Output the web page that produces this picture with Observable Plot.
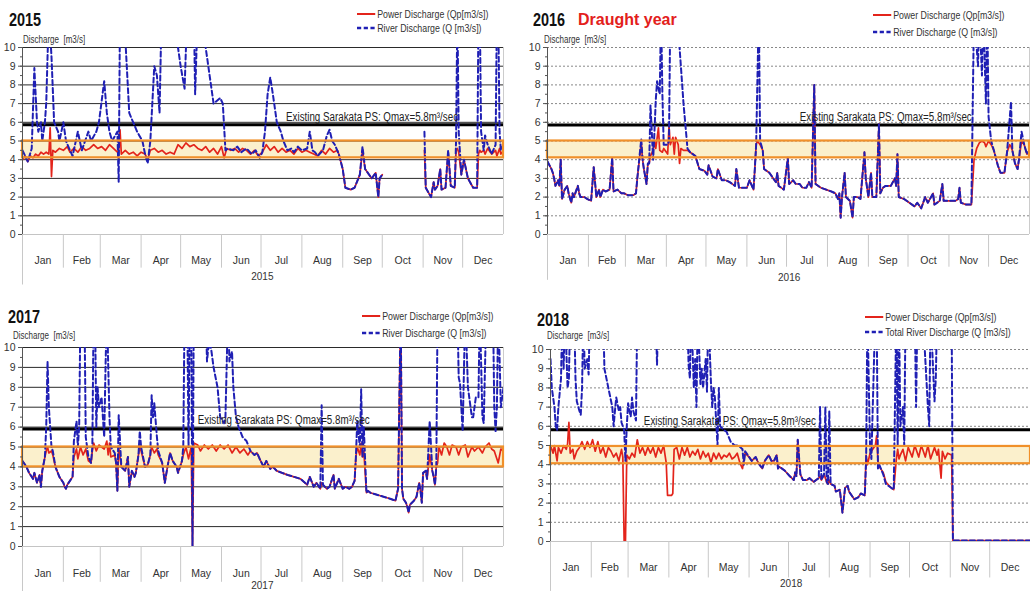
<!DOCTYPE html>
<html><head><meta charset="utf-8">
<script src="https://cdn.jsdelivr.net/npm/d3@7"></script>
<script src="https://cdn.jsdelivr.net/npm/@observablehq/plot@0.6"></script>
<style>
body{margin:0;background:#fff;}
#root{position:relative;width:1030px;height:591px;overflow:hidden;font-family:"Liberation Sans",Arial,sans-serif;color:#222;}
.panel{position:absolute;}
.ov{position:absolute;white-space:nowrap;z-index:5;transform-origin:left center;}
.title{font-weight:bold;font-size:19px;line-height:1;color:#111;transform:scaleX(0.76);}
.red{color:#e3201b;font-weight:bold;font-size:16px;line-height:1;}
.ylab{font-size:10px;line-height:10px;color:#333;transform:scaleX(0.8);}
.leg{font-size:10.5px;color:#333;transform:scaleX(0.84);}
.leg div{display:flex;align-items:center;}
.leg svg{margin-right:2px;}
</style></head>
<body><div id="root"></div>
<script>
// ---------- data ----------
const months = ["Jan","Feb","Mar","Apr","May","Jun","Jul","Aug","Sep","Oct","Nov","Dec"];
const monthStarts = [0,31,59,90,120,151,181,212,243,273,304,334,365];
const yTicks = [0,1,2,3,4,5,6,7,8,9,10];
const qmaxLabel = "Existing Sarakata PS: Qmax=5.8m\u00b3/sec";

// [day of year, discharge m3/s]; values above 10 run off the top of the frame
const river2015 = [[0,4.5],[4,3.9],[7,4.6],[9,8.9],[11,6.0],[12,5.5],[14,6.0],[15,5.0],[17,6.0],[18,7.0],[20,12],[22,9.5],[24,6.0],[27,5.5],[28,5.0],[31,6.0],[33,5.0],[36,4.5],[38,4.2],[42,5.5],[45,4.5],[50,5.5],[52,5.0],[56,5.5],[58,6.0],[62,8.2],[64,6.5],[66,5.5],[68,5.0],[72,5.5],[73,2.8],[74,12],[78,10.5],[81,6.5],[84,6.0],[87,5.5],[91,5.0],[93,4.3],[95,3.8],[97,5.0],[100,9.0],[102,8.5],[104,6.5],[105,10],[107,12],[117,12],[118,10],[120,9.0],[123,7.8],[125,12],[130,12],[131,7.5],[133,12],[138,12],[139,10],[142,8.5],[145,7.0],[150,7.3],[152,7.0],[154,4.5],[156,4.6],[160,4.5],[163,4.7],[166,4.4],[170,4.6],[174,4.3],[177,4.5],[180,4.1],[182,4.4],[184,5.5],[186,7.5],[188,8.4],[190,7.5],[191,7.0],[192,6.5],[193,6.0],[196,5.5],[198,5.0],[201,4.5],[204,4.6],[206,4.4],[209,4.7],[212,4.5],[216,4.6],[218,5.5],[220,4.5],[222,4.4],[224,4.2],[228,4.5],[231,5.3],[233,5.6],[235,5.0],[237,4.8],[240,4.3],[243,3.5],[245,2.5],[249,2.4],[252,2.5],[256,3.2],[258,4.7],[260,3.5],[265,3.0],[268,3.3],[270,2.0],[271,3.0],[273,3.2],[274,null],[304,null],[305,5.5],[306,2.5],[310,2.0],[312,2.8],[313,2.4],[315,2.6],[317,3.5],[318,2.4],[321,2.5],[323,4.5],[325,2.6],[328,2.5],[329,5.0],[330,12],[331,5.5],[333,3.2],[335,4.0],[338,3.0],[342,2.5],[345,2.5],[346,12],[347,12],[348,5.5],[350,4.5],[351,5.3],[353,4.8],[356,4.3],[359,4.8],[360,12],[361,12],[362,5.5],[363,4.5],[365,4.8]];
const power2015 = [[0,4.0],[2,4.2],[4,3.9],[6,4.2],[8,4.1],[10,4.3],[12,4.2],[14,4.4],[16,4.3],[18,4.4],[20,4.3],[21,5.7],[22,3.1],[23,4.5],[25,4.4],[28,4.6],[31,4.5],[34,4.7],[36,4.4],[39,4.6],[42,4.4],[45,4.7],[48,4.5],[51,4.6],[54,4.8],[57,4.6],[60,4.7],[63,4.5],[66,4.8],[69,4.6],[72,4.4],[73,4.5],[74,5.6],[75,4.3],[78,4.5],[81,4.3],[84,4.4],[87,4.2],[90,4.4],[93,4.3],[95,4.0],[97,4.5],[100,4.6],[103,4.4],[106,4.5],[109,4.3],[112,4.4],[115,4.3],[118,4.8],[121,4.6],[124,4.9],[127,4.7],[130,4.8],[133,4.6],[136,4.5],[139,4.7],[142,4.4],[145,4.6],[148,4.3],[151,4.7],[153,4.1],[155,4.6],[158,4.5],[161,4.6],[164,4.4],[167,4.6],[170,4.5],[173,4.3],[176,4.5],[179,4.2],[182,4.4],[185,4.8],[188,4.5],[191,4.7],[194,4.4],[197,4.6],[200,4.4],[203,4.5],[206,4.3],[209,4.6],[212,4.4],[215,4.5],[218,4.4],[221,4.3],[224,4.2],[227,4.5],[230,4.3],[233,4.6],[236,4.4],[239,4.5],[240,4.3],[243,3.5],[245,2.5],[249,2.4],[252,2.5],[256,3.2],[258,4.5],[260,3.5],[265,3.0],[268,3.3],[270,2.0],[271,3.0],[273,3.2],[274,null],[304,null],[305,4.5],[306,2.5],[310,2.0],[312,2.8],[313,2.4],[315,2.6],[317,3.5],[318,2.4],[321,2.5],[323,4.4],[325,2.6],[328,2.5],[329,4.5],[330,4.6],[331,4.4],[333,3.2],[335,4.0],[338,3.0],[342,2.5],[345,2.5],[346,4.3],[347,4.5],[348,4.4],[350,4.5],[351,4.3],[353,4.6],[356,4.3],[359,4.5],[360,4.2],[362,4.6],[363,4.3],[365,4.5]];

const river2016 = [[0,3.9],[3,3.5],[4,3.3],[5,3.0],[6,2.6],[8,2.9],[9,2.6],[10,4.0],[11,1.9],[13,2.4],[15,2.6],[16,2.2],[18,1.7],[19,2.2],[20,2.0],[23,2.6],[24,2.2],[25,2.0],[28,2.0],[30,1.9],[33,1.8],[35,3.6],[37,2.0],[39,2.4],[40,2.0],[42,2.4],[44,2.3],[47,2.4],[49,4.1],[50,2.3],[53,2.4],[56,2.2],[58,2.2],[61,2.1],[65,2.1],[67,2.2],[68,3.0],[71,5.1],[72,4.0],[73,3.5],[75,2.7],[76,3.8],[77,3.8],[78,6.9],[80,4.0],[81,5.5],[82,7.2],[83,8.2],[85,7.5],[86,12],[87,7.5],[88,4.8],[91,4.8],[92,5.0],[93,12],[100,10],[103,7.0],[106,4.6],[108,4.4],[112,4.2],[115,3.5],[119,3.4],[121,3.2],[122,3.7],[125,3.1],[128,3.0],[129,3.5],[132,2.9],[135,2.9],[138,2.8],[142,2.6],[143,3.5],[145,2.5],[151,2.5],[153,2.9],[156,2.4],[157,3.5],[158,4.8],[160,12],[161,5.0],[163,4.5],[164,3.5],[168,3.3],[171,3.0],[173,2.8],[174,3.3],[175,2.6],[179,2.4],[182,4.1],[183,2.7],[186,2.9],[188,2.7],[191,2.7],[193,2.5],[196,2.5],[198,2.8],[200,2.5],[202,8.0],[203,2.7],[207,2.5],[211,2.4],[215,2.3],[218,2.2],[220,1.9],[221,2.2],[222,0.9],[223,2.0],[225,3.3],[226,2.0],[229,1.8],[231,0.9],[232,2.0],[235,2.0],[237,1.9],[240,4.4],[241,3.0],[243,2.0],[245,3.3],[246,2.0],[249,2.0],[251,5.9],[252,2.2],[254,2.5],[256,2.6],[260,2.6],[263,3.0],[264,2.6],[265,4.3],[266,2.0],[270,1.9],[274,1.7],[278,1.5],[280,1.7],[283,1.4],[286,2.0],[288,1.7],[292,2.2],[293,1.6],[297,1.8],[299,2.7],[300,1.8],[305,1.8],[309,1.8],[311,1.9],[312,2.5],[313,1.7],[317,1.6],[321,1.6],[323,12],[326,9.0],[327,12],[329,8.5],[330,12],[332,7.0],[333,12],[334,6.3],[336,5.0],[338,4.5],[341,3.7],[343,3.3],[346,3.3],[348,4.4],[351,7.1],[352,4.5],[354,3.8],[356,3.5],[357,4.0],[359,5.5],[361,4.8],[363,4.3],[365,4.5]];
const power2016 = [[0,3.9],[3,3.5],[4,3.3],[5,3.0],[6,2.6],[8,2.9],[9,2.6],[10,4.0],[11,1.9],[13,2.4],[15,2.6],[16,2.2],[18,1.7],[19,2.2],[20,2.0],[23,2.6],[24,2.2],[25,2.0],[28,2.0],[30,1.9],[33,1.8],[35,3.6],[37,2.0],[39,2.4],[40,2.0],[42,2.4],[44,2.3],[47,2.4],[49,4.1],[50,2.3],[53,2.4],[56,2.2],[58,2.2],[61,2.1],[65,2.1],[67,2.2],[68,3.0],[71,4.9],[72,4.0],[73,3.5],[75,2.7],[76,3.8],[77,3.8],[78,4.2],[80,4.5],[81,5.0],[82,4.6],[84,5.7],[85,4.5],[87,4.4],[88,4.6],[91,4.3],[92,5.8],[93,4.8],[95,5.2],[96,4.3],[97,5.2],[99,4.8],[100,3.8],[101,4.6],[103,4.5],[106,4.5],[108,4.4],[112,4.2],[115,3.5],[119,3.4],[121,3.2],[122,3.7],[125,3.1],[128,3.0],[129,3.5],[132,2.9],[135,2.9],[138,2.8],[142,2.6],[143,3.5],[145,2.5],[151,2.5],[153,2.9],[156,2.4],[157,3.5],[158,4.8],[159,5.0],[160,4.9],[161,4.8],[163,4.5],[164,3.5],[168,3.3],[171,3.0],[173,2.8],[174,3.3],[175,2.6],[179,2.4],[182,4.1],[183,2.7],[186,2.9],[188,2.7],[191,2.7],[193,2.5],[196,2.5],[198,2.8],[200,2.5],[202,8.0],[203,2.7],[207,2.5],[211,2.4],[215,2.3],[218,2.2],[220,1.9],[221,2.2],[222,0.9],[223,2.0],[225,3.3],[226,2.0],[229,1.8],[231,0.9],[232,2.0],[235,2.0],[237,1.9],[240,4.4],[241,3.0],[243,2.0],[245,3.3],[246,2.0],[249,2.0],[251,5.9],[252,2.2],[254,2.5],[256,2.6],[260,2.6],[263,3.0],[264,2.6],[265,4.3],[266,2.0],[270,1.9],[274,1.7],[278,1.5],[280,1.7],[283,1.4],[286,2.0],[288,1.7],[292,2.2],[293,1.6],[297,1.8],[299,2.7],[300,1.8],[305,1.8],[309,1.8],[311,1.9],[312,2.5],[313,1.7],[317,1.6],[321,1.6],[323,4.0],[325,4.6],[327,4.9],[329,5.0],[331,4.9],[332,4.7],[334,5.0],[336,4.8],[338,4.5],[341,3.7],[343,3.3],[346,3.3],[348,4.4],[350,4.8],[351,4.7],[352,4.5],[354,3.8],[356,3.5],[357,4.0],[359,5.0],[361,4.8],[363,4.3],[365,4.5]];

const river2017 = [[0,4.3],[3,4.0],[5,3.7],[8,3.4],[9,3.7],[11,3.2],[13,3.6],[14,3.0],[15,3.8],[17,4.5],[18,6.0],[19,9.3],[20,7.0],[22,5.0],[23,4.8],[25,4.0],[28,3.5],[31,3.2],[32,3.0],[33,2.9],[34,3.1],[36,3.3],[38,3.5],[39,5.3],[41,6.3],[42,5.0],[43,6.0],[44,12],[47,12],[48,5.5],[50,4.5],[52,4.2],[53,5.0],[54,12],[55,12],[56,6.0],[57,8.0],[58,7.0],[60,7.5],[61,6.5],[62,5.5],[63,9.0],[64,12],[66,6.5],[67,5.0],[70,4.7],[71,4.2],[72,2.8],[73,6.6],[75,4.0],[78,3.8],[80,4.5],[81,3.0],[83,3.8],[85,3.5],[86,3.7],[88,4.6],[89,5.8],[90,5.0],[93,4.0],[95,4.1],[97,4.6],[98,7.6],[99,6.5],[100,7.2],[102,5.5],[103,4.8],[106,4.2],[108,3.2],[110,4.0],[112,4.7],[114,4.3],[117,4.0],[118,3.7],[121,4.3],[122,5.0],[123,12],[125,12],[126,5.0],[127,12],[128,12],[129,0.0],[130,12],[139,12],[140,9.3],[141,10],[143,10],[145,9.0],[148,8.0],[150,6.5],[153,6.2],[154,6.5],[156,12],[157,9.3],[159,9.8],[160,8.0],[162,6.5],[164,6.0],[167,5.5],[170,5.3],[173,4.8],[176,4.6],[178,4.7],[180,4.4],[183,4.0],[185,4.3],[188,3.9],[190,4.0],[193,3.8],[197,3.7],[201,3.6],[206,3.5],[211,3.4],[216,3.1],[218,3.5],[221,3.0],[223,3.2],[226,2.9],[227,7.1],[228,3.1],[231,2.9],[233,3.0],[236,3.6],[237,2.9],[240,3.4],[243,2.9],[245,3.0],[248,2.9],[250,3.0],[252,3.3],[253,4.5],[254,6.3],[256,5.0],[257,7.9],[258,4.5],[259,6.0],[261,2.7],[262,2.8],[264,2.7],[269,2.6],[274,2.5],[279,2.4],[283,2.3],[285,2.9],[287,12],[288,2.9],[289,2.4],[291,2.2],[292,2.0],[293,1.7],[294,2.1],[297,2.3],[299,2.5],[301,3.2],[302,2.8],[303,2.2],[304,3.7],[306,3.8],[307,3.4],[309,6.3],[311,3.8],[312,3.5],[313,3.1],[314,4.0],[315,12],[330,12],[331,8.5],[332,8.2],[334,5.8],[336,12],[338,8.0],[339,7.5],[341,6.5],[342,6.5],[344,7.5],[346,7.5],[347,12],[349,6.5],[350,6.2],[352,12],[357,12],[358,7.0],[359,5.8],[360,7.0],[361,12],[363,7.0],[365,8.0]];
const power2017 = [[0,4.3],[3,4.0],[5,3.7],[8,3.4],[9,3.7],[11,3.2],[13,3.6],[14,3.0],[15,3.8],[17,4.5],[18,4.8],[19,5.0],[20,4.7],[22,4.8],[23,4.6],[25,4.0],[28,3.5],[31,3.2],[32,3.0],[33,2.9],[34,3.1],[36,3.3],[38,3.5],[39,4.5],[41,4.9],[42,4.4],[43,4.7],[44,5.0],[46,4.6],[48,4.9],[50,4.3],[52,4.2],[53,4.8],[54,5.2],[56,4.8],[58,5.1],[60,5.0],[62,4.9],[64,5.3],[65,4.6],[66,5.2],[67,4.5],[70,4.6],[71,4.2],[72,2.8],[73,5.0],[75,4.0],[78,3.8],[80,4.5],[81,3.0],[83,3.8],[85,3.5],[86,3.7],[88,4.6],[89,5.0],[90,4.8],[93,4.0],[95,4.1],[97,4.6],[98,5.0],[100,4.7],[102,4.9],[103,4.6],[106,4.2],[108,3.2],[110,4.0],[112,4.7],[114,4.3],[117,4.0],[118,3.7],[121,4.3],[122,4.6],[124,5.0],[126,4.4],[128,5.0],[129,0.0],[130,5.2],[133,5.1],[135,4.8],[138,5.1],[141,4.9],[144,5.1],[147,4.8],[150,5.1],[153,4.9],[156,5.1],[159,4.7],[162,5.0],[165,4.7],[168,4.9],[171,4.6],[173,4.8],[176,4.6],[178,4.7],[180,4.4],[183,4.0],[185,4.3],[188,3.9],[190,4.0],[193,3.8],[197,3.7],[201,3.6],[206,3.5],[211,3.4],[216,3.1],[218,3.5],[221,3.0],[223,3.2],[226,2.9],[227,3.2],[228,3.1],[231,2.9],[233,3.0],[236,3.6],[237,2.9],[240,3.4],[243,2.9],[245,3.0],[248,2.9],[250,3.0],[252,3.3],[253,4.5],[254,5.0],[256,4.6],[257,5.2],[258,4.5],[259,4.8],[261,2.7],[262,2.8],[264,2.7],[269,2.6],[274,2.5],[279,2.4],[283,2.3],[285,2.9],[287,12],[288,2.9],[289,2.4],[291,2.2],[292,2.0],[293,1.7],[294,2.1],[297,2.3],[299,2.5],[301,3.2],[302,2.8],[303,2.2],[304,3.7],[306,3.8],[307,3.4],[309,4.6],[311,3.8],[312,3.5],[313,3.1],[314,4.0],[315,4.2],[316,5.0],[318,4.6],[320,5.2],[322,5.0],[324,4.6],[326,5.1],[329,5.0],[331,4.6],[333,5.0],[336,5.1],[338,4.5],[341,5.0],[343,4.8],[346,5.0],[349,4.7],[351,5.0],[354,5.2],[356,4.9],[358,4.8],[361,4.2],[363,4.9],[365,4.8]];

const river2018 = [[0,9.5],[1,8.0],[3,7.0],[4,6.0],[5,5.8],[6,7.0],[8,8.5],[9,12],[10,9.0],[11,12],[13,8.0],[14,8.5],[15,12],[18,12],[19,8.5],[20,7.3],[22,6.8],[23,6.6],[24,8.0],[25,12],[26,9.0],[28,9.5],[29,8.7],[30,12],[40,12],[41,9.0],[44,8.0],[47,7.0],[48,6.0],[49,6.8],[50,7.5],[52,6.8],[53,7.0],[54,6.2],[56,5.8],[57,4.2],[58,6.0],[59,7.2],[61,6.5],[62,7.5],[63,6.8],[65,6.3],[66,12],[80,12],[81,9.2],[82,12],[104,12],[105,9.2],[106,8.5],[107,12],[109,8.0],[110,9.5],[111,7.0],[112,12],[114,8.2],[115,9.0],[116,8.0],[118,9.5],[119,7.8],[120,12],[122,8.3],[123,7.0],[124,8.0],[125,7.5],[127,5.0],[128,8.0],[129,6.0],[132,5.8],[134,5.7],[137,5.2],[140,5.0],[143,5.0],[146,4.8],[147,4.0],[148,4.7],[151,4.4],[153,4.2],[156,4.4],[158,4.1],[161,3.8],[163,4.2],[166,4.5],[168,4.2],[170,4.2],[172,4.5],[173,3.8],[174,3.9],[178,3.7],[182,3.4],[185,3.2],[186,3.6],[187,3.4],[188,5.3],[190,3.5],[192,3.2],[195,3.2],[197,3.3],[200,3.1],[202,3.2],[204,3.3],[205,7.0],[206,3.2],[208,3.5],[209,7.0],[210,3.1],[211,3.0],[212,6.8],[213,3.0],[216,2.9],[217,2.6],[220,2.7],[222,1.5],[224,2.8],[226,2.9],[227,2.6],[231,2.2],[234,2.3],[236,2.5],[239,2.4],[240,4.2],[241,12],[243,4.8],[244,4.3],[247,12],[248,12],[249,3.8],[250,4.0],[253,3.5],[255,3.0],[259,2.8],[261,2.7],[263,12],[264,5.0],[265,12],[266,6.0],[268,7.0],[269,5.0],[270,12],[277,12],[278,7.0],[279,12],[283,12],[287,7.0],[288,6.0],[289,12],[292,7.3],[293,8.5],[294,12],[305,12],[306,0.05],[365,0.05]];
const power2018 = [[0,5.0],[2,4.6],[3,5.0],[5,4.2],[6,4.9],[8,4.6],[10,5.0],[12,4.8],[13,5.1],[14,6.2],[15,4.6],[17,4.8],[18,4.3],[20,4.7],[22,4.9],[24,5.2],[26,4.8],[28,5.2],[30,4.9],[32,5.3],[34,4.7],[36,5.2],[38,4.6],[40,4.9],[42,4.4],[44,4.9],[46,4.7],[48,4.4],[50,4.6],[52,4.2],[54,4.8],[55,4.4],[56,0.0],[57,0.0],[58,4.5],[60,4.3],[62,4.6],[64,4.4],[66,5.3],[68,4.6],[70,4.9],[72,4.5],[74,4.9],[76,4.6],[78,4.9],[80,4.4],[82,4.9],[84,4.6],[86,5.0],[88,4.1],[89,2.4],[92,2.4],[93,2.5],[94,4.8],[96,4.9],[98,4.3],[100,4.9],[102,4.5],[104,4.9],[106,4.4],[108,4.7],[110,4.5],[112,4.8],[114,4.3],[116,4.7],[118,4.4],[120,4.6],[122,4.1],[124,4.6],[126,4.3],[128,4.6],[130,4.3],[132,4.5],[134,4.4],[136,4.6],[138,4.3],[140,4.4],[142,4.6],[144,4.1],[146,3.8],[148,4.6],[151,4.4],[153,4.2],[156,4.4],[158,4.1],[161,3.8],[163,4.2],[166,4.5],[168,4.2],[170,4.2],[172,4.5],[173,3.8],[174,3.9],[178,3.7],[182,3.4],[185,3.2],[186,3.6],[187,3.4],[188,5.3],[190,3.5],[192,3.2],[195,3.2],[197,3.3],[200,3.1],[202,3.2],[204,3.3],[205,3.4],[206,3.2],[208,3.5],[209,3.3],[210,3.1],[211,3.0],[212,3.2],[213,3.0],[216,2.9],[217,2.6],[220,2.7],[222,1.5],[224,2.8],[226,2.9],[227,2.6],[231,2.2],[234,2.3],[236,2.5],[239,2.4],[240,4.5],[241,4.0],[243,4.6],[245,4.8],[247,5.0],[248,5.5],[249,4.2],[250,3.9],[253,3.6],[255,3.1],[259,2.8],[261,2.7],[263,4.3],[264,4.8],[265,4.3],[266,4.5],[268,4.8],[270,4.2],[272,4.9],[275,4.4],[277,5.0],[280,4.4],[282,5.0],[285,4.4],[287,5.0],[289,4.3],[292,4.9],[294,4.5],[295,4.8],[297,3.3],[298,4.7],[300,4.3],[302,4.6],[305,4.5],[306,0.05],[365,0.05]];

// ---------- layout / styling ----------
const FONT = '"Liberation Sans",Arial,sans-serif';
const panels = [
  {year:"2015", river:river2015, power:power2015, band:[4.1,5.0], qmax:5.87,
   left:0, top:30, width:515, height:260, mt:17, mb:56, ml:22, mr:12,
   grid:"#2a2a2a", dash:null, lx:200, ly:6.3, monthY:-1.4, divY:-1.8, extY:-2.7, yearX:182, yearY:-2.25},
  {year:"2016", river:river2016, power:power2016, band:[4.1,5.0], qmax:5.85,
   left:515, top:30, width:515, height:260, mt:17, mb:56, ml:32, mr:1,
   grid:"#888", dash:"2,2", lx:191, ly:6.3, monthY:-1.4, divY:-1.75, extY:-2.45, yearX:183, yearY:-2.3},
  {year:"2017", river:river2017, power:power2017, band:[4.0,5.0], qmax:5.9,
   left:0, top:330, width:515, height:261, mt:17, mb:45, ml:22, mr:12,
   grid:"#2a2a2a", dash:null, lx:133, ly:6.35, monthY:-1.36, divY:-1.8, extY:-2.3, yearX:182, yearY:-1.97},
  {year:"2018", river:river2018, power:power2018, band:[4.05,4.95], qmax:5.82,
   left:515, top:330, width:515, height:261, mt:19, mb:50, ml:35, mr:0,
   grid:"#888", dash:"2,2", lx:71, ly:6.27, monthY:-1.34, divY:-1.9, extY:-2.6, yearX:183, yearY:-2.2}
];

const root = document.getElementById("root");
const mids = months.map((m,i)=>({m, x:(monthStarts[i]+monthStarts[i+1])/2}));

for (const p of panels) {
  const chart = Plot.plot({
    width:p.width, height:p.height,
    marginTop:p.mt, marginBottom:p.mb, marginLeft:p.ml, marginRight:p.mr,
    x:{domain:[0,365], axis:null},
    y:{domain:[0,10]},
    style:{fontFamily:FONT, fontSize:"11px", color:"#222", background:"transparent", overflow:"visible"},
    marks:[
      Plot.rect([p.band],{x1:0, x2:365, y1:d=>d[0], y2:d=>d[1], fill:"#fbf0cc"}),
      Plot.ruleY(yTicks.slice(1),{stroke:p.grid, strokeWidth:1, strokeDasharray:p.dash}),
      Plot.ruleY([0],{stroke:"#c4c4c4"}),
      Plot.ruleX([365],{y1:0, y2:10, stroke:"#ccc"}),
      Plot.ruleY([p.qmax],{stroke:"#000", strokeWidth:3}),
      Plot.line(p.power,{x:d=>d[0], y:d=>d[1], stroke:"#e3241b", strokeWidth:1.7, clip:true}),
      Plot.line(p.river,{x:d=>d[0], y:d=>d[1], stroke:"#1f1fb4", strokeWidth:2, strokeDasharray:"5,3", clip:true}),
      Plot.rect([p.band],{x1:0, x2:365, y1:d=>d[0], y2:d=>d[1], fill:"none", stroke:"#f0902a", strokeWidth:2.2}),
      Plot.text([qmaxLabel],{x:p.lx, y:p.ly, text:d=>d, textAnchor:"start", fontSize:12, fill:"#222"}),
      Plot.ruleX(monthStarts.slice(1,12),{y1:0, y2:p.divY, stroke:"#c8c8c8"}),
      Plot.ruleX([0],{y1:0, y2:p.extY, stroke:"#c8c8c8"}),
      Plot.ruleX([0],{y1:0, y2:10, stroke:"#555"}),
      Plot.text(mids,{x:"x", y:p.monthY, text:"m", fontSize:10.5, fill:"#333"}),
      Plot.text([p.year],{x:p.yearX, y:p.yearY, text:d=>d, fontSize:10, fill:"#333"}),
      Plot.axisY({ticks:d3.range(0,10.01,0.5), tickSize:2, tickFormat:()=>"", stroke:"#555"}),
      Plot.axisY({ticks:yTicks, tickSize:4, tickPadding:3, fontSize:10.5, label:null, tickFormat:d=>String(d), stroke:"#555", fill:"#333"})
    ]
  });
  // condense the threshold label to the narrow width used in the original
  chart.querySelectorAll("text").forEach(t=>{
    if (t.textContent === qmaxLabel) { t.setAttribute("textLength", 172); t.setAttribute("lengthAdjust", "spacingAndGlyphs"); }
  });
  const div = document.createElement("div");
  div.className = "panel";
  div.style.left = p.left+"px"; div.style.top = p.top+"px";
  div.appendChild(chart);
  root.appendChild(div);
}

// ---------- overlay texts (titles, axis titles, legends) ----------
function ov(html, left, top, cls){
  const d = document.createElement("div");
  d.className = "ov " + (cls||"");
  d.style.left = left+"px"; d.style.top = top+"px";
  d.innerHTML = html; root.appendChild(d); return d;
}
ov("2015", 9, 10, "title");
ov("2016", 533, 10, "title");
ov("Draught year", 578, 12, "red");
ov("2017", 8, 307, "title");
ov("2018", 537, 310, "title");
ov("Discharge&nbsp;&nbsp;[m3/s]", 23, 35, "ylab");
ov("Discharge&nbsp;&nbsp;[m3/s]", 544, 35, "ylab");
ov("Discharge&nbsp;&nbsp;[m3/s]", 13, 331, "ylab");
ov("Discharge&nbsp;&nbsp;[m3/s]", 547, 331, "ylab");

const redSw = '<svg width="22" height="4"><line x1="0" y1="2" x2="22" y2="2" stroke="#e3241b" stroke-width="2.2"/></svg>';
const blueSw = '<svg width="22" height="4"><line x1="0" y1="2" x2="22" y2="2" stroke="#1f1fb4" stroke-width="2.4" stroke-dasharray="5,3"/></svg>';
function legend(left, y1, y2, label2){
  const lh = y2 - y1;
  ov(`<div style="height:${lh}px">${redSw}Power Discharge (Qp[m3/s])</div><div style="height:${lh}px">${blueSw}${label2}</div>`, left, y1 - lh/2, "leg");
}
legend(357, 14, 28, "River Discharge (Q [m3/s])");
legend(873, 15, 32, "River Discharge (Q [m3/s])");
legend(362, 316, 333, "River Discharge (Q [m3/s])");
legend(865, 317, 332, "Total River Discharge (Q [m3/s])");
</script>
</body></html>
